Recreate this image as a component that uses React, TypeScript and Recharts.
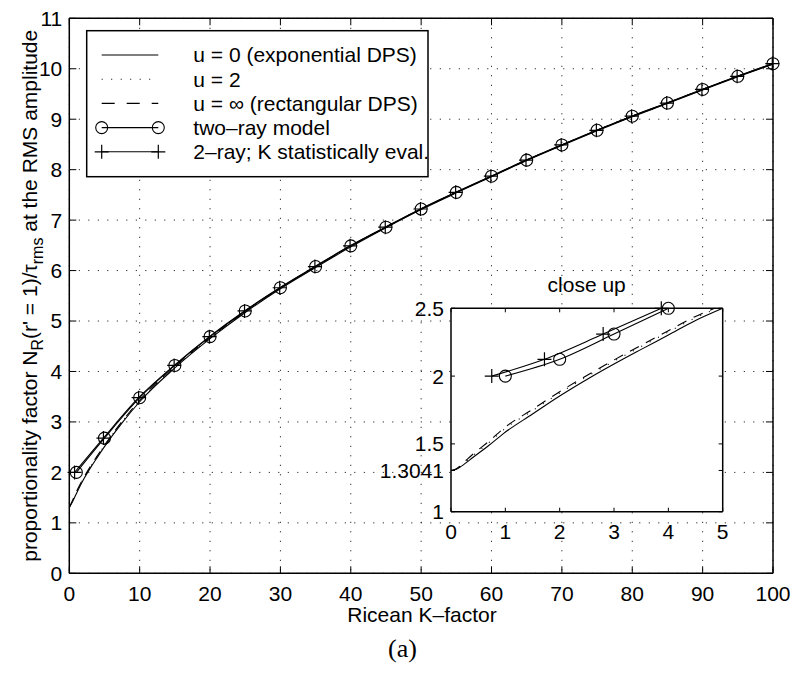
import React from 'react';
import { LineChart, Line, XAxis, YAxis, CartesianGrid } from 'recharts';

const FONT = '"Liberation Sans", Arial, Helvetica, sans-serif';

// ---------- main plot data ----------
const mainXTicks = [0, 10, 20, 30, 40, 50, 60, 70, 80, 90, 100];
const mainYTicks = [0, 1, 2, 3, 4, 5, 6, 7, 8, 9, 10, 11];

const kTwoRay = [1, 5, 10, 15, 20, 25, 30, 35, 40, 45, 50, 55, 60, 65, 70, 75, 80, 85, 90, 95, 100];
const twoRayMain = [2.0, 2.68, 3.48, 4.12, 4.69, 5.2, 5.66, 6.08, 6.49, 6.86, 7.22, 7.55, 7.87, 8.19, 8.49, 8.78, 9.06, 9.32, 9.59, 9.85, 10.1];
const kStatMain = [0.75, 4.85, 9.85, 14.9, 19.9, 24.9, 29.9, 34.9, 39.9, 44.9, 49.9, 54.9, 59.9, 64.9, 69.9, 74.9, 79.9, 84.9, 89.9, 94.9, 99.9];
const statMain = [2.0, 2.68, 3.48, 4.12, 4.69, 5.2, 5.66, 6.08, 6.49, 6.86, 7.22, 7.55, 7.87, 8.19, 8.49, 8.78, 9.06, 9.32, 9.59, 9.85, 10.1];

const kDps = [0, 0.5, 1, 2, 3, 4, 5, 7.5, 10, 15, 20, 25, 30, 35, 40, 45, 50, 55, 60, 65, 70, 75, 80, 85, 90, 95, 100];
const u0Main = [1.3041, 1.43, 1.578, 1.853, 2.089, 2.303, 2.51, 2.98, 3.4, 4.07, 4.65, 5.17, 5.64, 6.06, 6.47, 6.85, 7.21, 7.54, 7.86, 8.18, 8.48, 8.77, 9.05, 9.31, 9.58, 9.84, 10.09];
const u2Main = [1.3041, 1.45, 1.605, 1.875, 2.11, 2.325, 2.53, 3.0, 3.42, 4.09, 4.66, 5.18, 5.65, 6.07, 6.48, 6.86, 7.22, 7.55, 7.87, 8.19, 8.49, 8.78, 9.06, 9.32, 9.59, 9.85, 10.1];
const uInfMain = [1.3041, 1.46, 1.615, 1.885, 2.119, 2.335, 2.54, 3.01, 3.43, 4.1, 4.67, 5.19, 5.66, 6.08, 6.49, 6.86, 7.22, 7.55, 7.87, 8.19, 8.49, 8.78, 9.06, 9.32, 9.59, 9.85, 10.1];

// ---------- inset ("close up") data ----------
const insetXTicks = [0, 1, 2, 3, 4, 5];
const insetYTicks = [1, 1.3041, 1.5, 2, 2.5];
const kInsetU0 = [0, 0.1, 0.2, 0.42, 0.7, 0.97, 1.5, 2, 2.5, 3, 3.5, 4, 4.5, 5];
const u0Inset = [1.3041, 1.313, 1.338, 1.405, 1.49, 1.578, 1.72, 1.853, 1.975, 2.089, 2.197, 2.303, 2.41, 2.5];
const kInsetU2 = [0, 0.1, 0.2, 0.42, 0.7, 0.97, 1.5, 2, 2.5, 3, 3.5, 4, 4.5, 4.9];
const u2Inset = [1.3041, 1.315, 1.345, 1.42, 1.51, 1.605, 1.745, 1.875, 1.995, 2.11, 2.218, 2.325, 2.43, 2.5];
const kInsetUInf = [0, 0.1, 0.2, 0.42, 0.7, 0.97, 1.5, 2, 2.5, 3, 3.5, 4, 4.5, 4.85];
const uInfInset = [1.3041, 1.316, 1.35, 1.43, 1.52, 1.615, 1.755, 1.885, 2.005, 2.119, 2.228, 2.335, 2.44, 2.5];
const kTwoRayInset = [1, 2, 3, 4];
const twoRayInset = [2.0, 2.124, 2.31, 2.5];
const kStatInset = [0.75, 1.72, 2.8, 3.87];
const statInset = [2.0, 2.124, 2.31, 2.5];

const legendLabels = [
  'u = 0 (exponential DPS)',
  'u = 2',
  'u = \u221E (rectangular DPS)',
  'two\u2013ray model',
  '2\u2013ray; K statistically eval.',
];

const zip = (xs: number[], ys: number[]) => xs.map((x, i) => ({ x, y: ys[i] }));

const DOTTED = '1 8.5';
const DASHED = '10 8';

const PlusDot = (props: any) => {
  const { cx, cy, index } = props;
  if (cx == null || cy == null) return <g key={`e${index}`} />;
  return (
    <path
      key={`p${index}`}
      d={`M${cx - 7},${cy}H${cx + 7}M${cx},${cy - 7}V${cy + 7}`}
      stroke="#000"
      strokeWidth={1.2}
      fill="none"
    />
  );
};

const circleDot = { r: 6, fill: 'none', stroke: '#000', strokeWidth: 1.1 };
const tickStyle = { fill: '#000', fontSize: 21, fontFamily: FONT };
const axisLineStyle = { stroke: '#000', strokeWidth: 1.5 };
const tickLineStyle = { stroke: '#000', strokeWidth: 1 };
const empty = () => '';

export default function App() {
  return (
    <div style={{ position: 'absolute', left: 0, top: 0, width: 793, height: 685, background: '#fff', overflow: 'hidden' }}>
      {/* main chart */}
      <div style={{ position: 'absolute', left: 0, top: 0 }}>
        <LineChart width={793} height={685} margin={{ top: 17.3, right: 19, bottom: 81.7, left: 0.3 }}>
          <CartesianGrid stroke="#000" strokeDasharray={DOTTED} strokeWidth={1} />
          <XAxis
            dataKey="x"
            type="number"
            domain={[0, 100]}
            ticks={mainXTicks}
            interval={0}
            height={30}
            tickSize={-7}
            tickMargin={20}
            tick={tickStyle}
            axisLine={axisLineStyle}
            tickLine={tickLineStyle}
          />
          <XAxis
            xAxisId="top"
            orientation="top"
            dataKey="x"
            type="number"
            domain={[0, 100]}
            allowDataOverflow
            ticks={mainXTicks}
            interval={0}
            height={1}
            tickSize={-7}
            tickFormatter={empty}
            axisLine={axisLineStyle}
            tickLine={tickLineStyle}
          />
          <YAxis
            type="number"
            domain={[0, 11]}
            ticks={mainYTicks}
            interval={0}
            width={69}
            tickSize={-7}
            tickMargin={14}
            tick={tickStyle}
            axisLine={axisLineStyle}
            tickLine={tickLineStyle}
          />
          <YAxis
            yAxisId="right"
            orientation="right"
            type="number"
            domain={[0, 11]}
            allowDataOverflow
            ticks={mainYTicks}
            interval={0}
            width={1}
            tickSize={-7}
            tickFormatter={empty}
            axisLine={axisLineStyle}
            tickLine={tickLineStyle}
          />
          <Line data={zip(kDps, u0Main)} dataKey="y" type="monotone" stroke="#000" strokeWidth={1.1} dot={false} activeDot={false} isAnimationActive={false} />
          <Line data={zip(kDps, u2Main)} dataKey="y" type="monotone" stroke="#000" strokeWidth={1.1} strokeDasharray={DOTTED} dot={false} activeDot={false} isAnimationActive={false} />
          <Line data={zip(kDps, uInfMain)} dataKey="y" type="monotone" stroke="#000" strokeWidth={1.1} strokeDasharray={DASHED} dot={false} activeDot={false} isAnimationActive={false} />
          <Line data={zip(kTwoRay, twoRayMain)} dataKey="y" type="monotone" stroke="#000" strokeWidth={1.1} dot={circleDot} activeDot={false} isAnimationActive={false} />
          <Line data={zip(kStatMain, statMain)} dataKey="y" type="monotone" stroke="#000" strokeWidth={1.1} dot={PlusDot} activeDot={false} isAnimationActive={false} />
        </LineChart>
      </div>

      {/* inset chart */}
      <div style={{ position: 'absolute', left: 350, top: 270 }}>
        <LineChart width={390} height={290} margin={{ top: 37.3, right: 16.3, bottom: 18.3, left: 0 }}>
          <CartesianGrid horizontal={false} vertical={false} fill="#fff" fillOpacity={1} stroke="none" />
          <XAxis
            dataKey="x"
            type="number"
            domain={[0, 5]}
            ticks={insetXTicks}
            interval={0}
            height={30}
            tickSize={-4}
            tickMargin={16}
            tick={tickStyle}
            axisLine={axisLineStyle}
            tickLine={tickLineStyle}
          />
          <XAxis
            xAxisId="top"
            orientation="top"
            dataKey="x"
            type="number"
            domain={[0, 5]}
            allowDataOverflow
            ticks={insetXTicks}
            interval={0}
            height={1}
            tickSize={-4}
            tickFormatter={empty}
            axisLine={axisLineStyle}
            tickLine={tickLineStyle}
          />
          <YAxis
            type="number"
            domain={[1, 2.5]}
            ticks={insetYTicks}
            interval={0}
            width={101}
            tickSize={-4}
            tickMargin={11}
            tick={tickStyle}
            axisLine={axisLineStyle}
            tickLine={tickLineStyle}
          />
          <YAxis
            yAxisId="right"
            orientation="right"
            type="number"
            domain={[1, 2.5]}
            allowDataOverflow
            ticks={insetYTicks}
            interval={0}
            width={1}
            tickSize={-4}
            tickFormatter={empty}
            axisLine={axisLineStyle}
            tickLine={tickLineStyle}
          />
          <Line data={zip(kInsetU0, u0Inset)} dataKey="y" type="monotone" stroke="#000" strokeWidth={1.1} dot={false} activeDot={false} isAnimationActive={false} />
          <Line data={zip(kInsetU2, u2Inset)} dataKey="y" type="monotone" stroke="#000" strokeWidth={1.1} strokeDasharray={DOTTED} dot={false} activeDot={false} isAnimationActive={false} />
          <Line data={zip(kInsetUInf, uInfInset)} dataKey="y" type="monotone" stroke="#000" strokeWidth={1.1} strokeDasharray={DASHED} dot={false} activeDot={false} isAnimationActive={false} />
          <Line data={zip(kTwoRayInset, twoRayInset)} dataKey="y" type="monotone" stroke="#000" strokeWidth={1.1} dot={circleDot} activeDot={false} isAnimationActive={false} />
          <Line data={zip(kStatInset, statInset)} dataKey="y" type="monotone" stroke="#000" strokeWidth={1.1} dot={PlusDot} activeDot={false} isAnimationActive={false} />
        </LineChart>
      </div>

      {/* texts and legend */}
      <svg width={793} height={685} style={{ position: 'absolute', left: 0, top: 0, pointerEvents: 'none' }}>
        <text x={586.7} y={291.7} textAnchor="middle" fontFamily={FONT} fontSize={21} fill="#000">close up</text>
        <text x={422} y={622} textAnchor="middle" fontFamily={FONT} fontSize={21} fill="#000">Ricean K{'\u2013'}factor</text>
        <text x={402.5} y={657} textAnchor="middle" fontFamily={'"Liberation Serif", "Times New Roman", serif'} fontSize={26} fill="#000">(a)</text>
        <text transform="translate(37,295.8) rotate(-90)" textAnchor="middle" fontFamily={FONT} fontSize={21} fill="#000">
          proportionality factor N<tspan fontSize={16} dy={6}>R</tspan><tspan dy={-6}>(r' = 1)/{'\u03C4'}</tspan><tspan fontSize={16} dy={6}>rms</tspan><tspan dy={-6}> at the RMS amplitude</tspan>
        </text>

        <g>
          <rect x={86.7} y={30.7} width={341.3} height={146} fill="#fff" stroke="#000" strokeWidth={1.5} />
          {legendLabels.map((label, i) => {
            const cy = 55 + i * 24.2;
            const x1 = 101.7;
            const x2 = 158.3;
            return (
              <g key={label}>
                <line
                  x1={x1}
                  x2={x2}
                  y1={cy}
                  y2={cy}
                  stroke="#000"
                  strokeWidth={1.1}
                  strokeDasharray={i === 1 ? DOTTED : i === 2 ? '13 12' : undefined}
                />
                {i === 3 && (
                  <>
                    <circle cx={x1} cy={cy} r={6} fill="none" stroke="#000" strokeWidth={1.1} />
                    <circle cx={x2} cy={cy} r={6} fill="none" stroke="#000" strokeWidth={1.1} />
                  </>
                )}
                {i === 4 && (
                  <path d={`M${x1 - 7},${cy}H${x1 + 7}M${x1},${cy - 7}V${cy + 7}M${x2 - 7},${cy}H${x2 + 7}M${x2},${cy - 7}V${cy + 7}`} stroke="#000" strokeWidth={1.2} />
                )}
                <text x={193.3} y={cy + 7.3} fontFamily={FONT} fontSize={21} fill="#000">{label}</text>
              </g>
            );
          })}
        </g>
      </svg>
    </div>
  );
}
